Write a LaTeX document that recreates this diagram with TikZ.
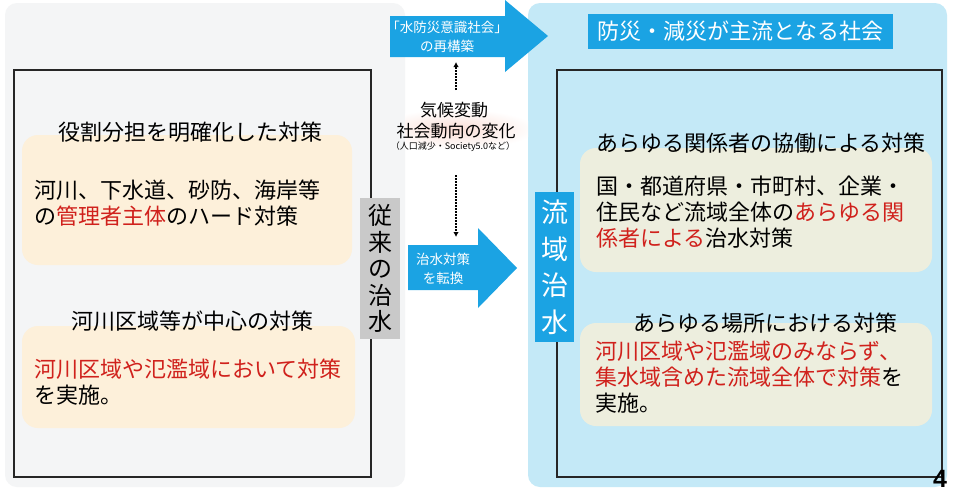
\documentclass[tikz,border=0pt]{standalone}
\usepackage{fontspec}
\setmainfont{Noto Sans CJK JP}
\newfontfamily\numfont{Liberation Sans}
\usepackage{tikz}
\usetikzlibrary{arrows.meta,positioning}
\definecolor{leftbg}{RGB}{244,245,246}
\definecolor{rightbg}{RGB}{196,233,247}
\definecolor{mainblue}{RGB}{27,163,227}
\definecolor{peach}{RGB}{253,240,218}
\definecolor{beige}{RGB}{237,238,222}
\definecolor{labelgray}{RGB}{201,201,201}
\definecolor{redtext}{RGB}{208,33,28}
\definecolor{glow}{RGB}{250,222,214}

\begin{document}
\begin{tikzpicture}[x=1pt,y=-1pt]
	\tikzstyle{every node} = [inner sep=0pt, font=\fontsize{22}{26}\selectfont]
	\tikzstyle{panel} = [rounded corners=12pt]
	\tikzstyle{card} = [rounded corners=16pt]
	\tikzstyle{frame} = [draw=black!85, line width=1.3pt]
	\tikzstyle{arrowtext} = [text=white, align=center, font=\fontsize{13.5}{19.5}\selectfont]
	\tikzstyle{dotarrow} = [dash pattern=on 1.6pt off 1.4pt, line width=1.6pt, -{Latex[length=5pt,width=5.5pt]}]
\useasboundingbox (0,0) rectangle (953,493);
\fill[white] (0,0) rectangle (953,493);

% backgrounds
\fill[leftbg, panel] (5,3) rectangle (405,487);
\fill[rightbg, panel] (528,3) rectangle (947,487);
\path[frame] (14,70) rectangle (371,477);
\path[frame] (557,70) rectangle (942,477);

% left cards
\fill[peach, card] (22,135) rectangle (352,265);
\fill[peach, card] (22,326) rectangle (355,428);
\node (roles) at (190,132) {役割分担を明確化した対策};
\node[anchor=west, align=left] (hard) at (34,203) {河川、下水道、砂防、海岸等\\の{\color{redtext}管理者主体}のハード対策};
\node (riverzone) at (192,321) {河川区域等が中心の対策};
\node[anchor=west, align=left] (floodplain) at (34,382) {{\color{redtext}河川区域や氾濫域において対策}\\を実施。};
\node[fill=labelgray, minimum width=40pt, minimum height=141pt, align=center,
      font=\fontsize{24}{26.5}\selectfont] (conventional) at (380,268.5) {従\\来\\の\\治\\水};

% middle arrows
\fill[mainblue] (390,16) -- (505,16) -- (505,0) -- (548,36) -- (505,72) -- (505,57) -- (390,57) -- cycle;
\node[arrowtext] (rebuild) at (447,37) {「水防災意識社会」\\の再構築};
\fill[mainblue] (408,245) -- (478,245) -- (478,228) -- (517,268) -- (478,308) -- (478,290) -- (408,290) -- cycle;
\node[arrowtext] (shift) at (443,269) {治水対策\\を転換};

\begin{scope}
\clip (405,95) rectangle (528,165);
\shade[inner color=glow, outer color=white] (456,129) ellipse [x radius=80, y radius=20];
\end{scope}
\node[font=\fontsize{17}{20}\selectfont] (climate) at (454,110) {気候変動};
\node[font=\fontsize{17}{20}\selectfont] (society) at (456,131) {社会動向の変化};
\node[font=\fontsize{9}{10}\selectfont] (examples) at (453,147) {（人口減少・Society5.0など）};
\coordinate (upstart) at (456,90);
\coordinate (upend) at (456,62);
\coordinate (downstart) at (456,175);
\coordinate (downend) at (456,237);
\draw[dotarrow] (upstart) -- (upend);
\draw[dotarrow] (downstart) -- (downend);

% right side
\node[fill=mainblue, text=white, minimum width=305pt, minimum height=35pt] (mainstream) at (740.5,31.5) {防災・減災が主流となる社会};
\node[fill=mainblue, text=white, minimum width=39pt, minimum height=150pt, align=center,
      font=\fontsize{27}{36.5}\selectfont] (basin) at (554.5,267) {流\\域\\治\\水};
\fill[beige, card] (580,148) rectangle (932,272);
\fill[beige, card] (580,323) rectangle (932,426);
\node (everyone) at (761,143) {あらゆる関係者の協働による対策};
\node[anchor=west, align=left] (stakeholders) at (596,212) {国・都道府県・市町村、企業・\\住民など流域全体の{\color{redtext}あらゆる関}\\{\color{redtext}係者による}治水対策};
\node (everywhere) at (765,323) {あらゆる場所における対策};
\node[anchor=west, align=left] (catchment) at (595,377) {{\color{redtext}河川区域や氾濫域のみならず、}\\{\color{redtext}集水域含めた流域全体で対策}を\\実施。};

\node[font=\numfont\bfseries\fontsize{25}{25}\selectfont] (pagenum) at (940,479) {4};
\end{tikzpicture}
\end{document}
